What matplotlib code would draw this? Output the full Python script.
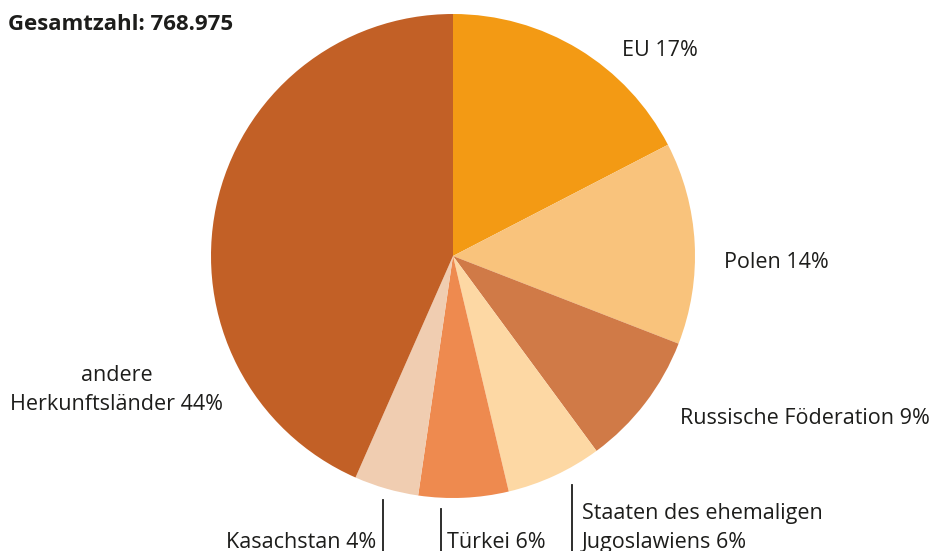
import matplotlib.pyplot as plt

# data
labels = ["EU", "Polen", "Russische Föderation", "Staaten des ehemaligen\nJugoslawiens",
          "Türkei", "Kasachstan", "andere\nHerkunftsländer"]
label_pct = [17, 14, 9, 6, 6, 4, 44]            # as printed
shares = [17.4, 13.5, 9.0, 6.4, 6.0, 4.3, 43.4]  # slice sizes
colors = ["#F39A14", "#F9C37C", "#D07A47", "#FDD8A4", "#EE8A4F", "#F0CDB1", "#C26026"]
total = "768.975"

W, H = 931, 551
fig = plt.figure(figsize=(W / 100, H / 100), dpi=100)
ax = fig.add_axes([0, 0, 1, 1])

# y axis is inverted below, so counterclock in data = clockwise on screen
ax.pie(shares, colors=colors, startangle=-90, counterclock=True,
       center=(453, 256), radius=242, frame=True,
       wedgeprops=dict(linewidth=0))
ax.set_xlim(0, W)
ax.set_ylim(H, 0)  # pixel coords, y down
ax.set_aspect("equal")
ax.axis("off")

font = "Open Sans"
tc = "#1d1d1b"
fs = 15.5
ls = 1.45

def lab(i):
    return f"{labels[i]} {label_pct[i]}%"

ax.text(8, 25, f"Gesamtzahl: {total}", fontsize=16, fontweight="bold",
        family=font, color=tc, va="center", ha="left")
ax.text(622, 50, lab(0), fontsize=fs, family=font, color=tc, va="center")
ax.text(724, 262, lab(1), fontsize=fs, family=font, color=tc, va="center")
ax.text(680, 418, lab(2), fontsize=fs, family=font, color=tc, va="center")
ax.text(582, 528, lab(3), fontsize=fs, family=font, color=tc, va="center",
        linespacing=ls)
ax.text(447, 543, lab(4), fontsize=fs, family=font, color=tc, va="center")
ax.text(376, 543, lab(5), fontsize=fs, family=font, color=tc, va="center", ha="right")
ax.text(117, 390, lab(6), fontsize=fs, family=font, color=tc, va="center",
        ha="center", linespacing=ls)

# leader lines
ax.plot([383, 383], [500, 551], color=tc, lw=1.3)
ax.plot([441, 441], [509, 551], color=tc, lw=1.3)
ax.plot([572, 572], [485, 551], color=tc, lw=1.3)

fig.savefig("out.png", dpi=100)
